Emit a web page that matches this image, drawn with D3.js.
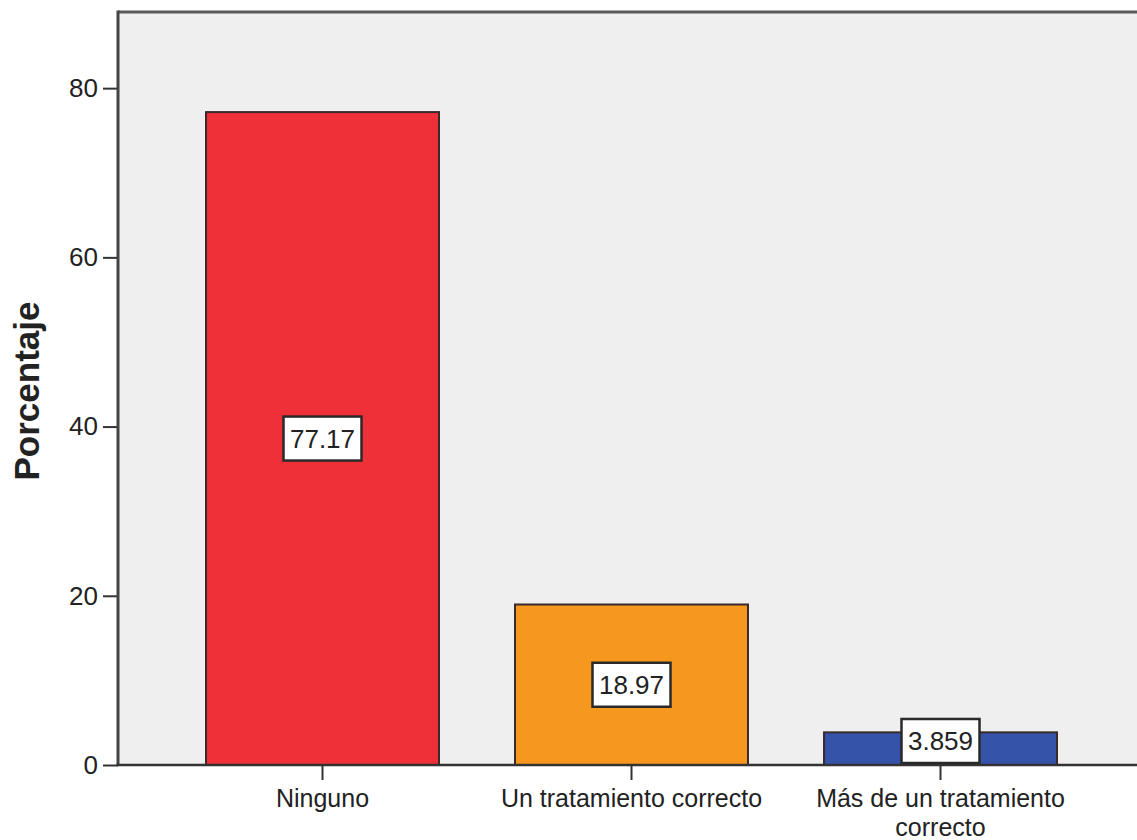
<!DOCTYPE html>
<html>
<head>
<meta charset="utf-8">
<script src="https://cdn.jsdelivr.net/npm/d3@7"></script>
<style>
  html, body { margin: 0; padding: 0; background: #ffffff; }
  svg { display: block; }
  text { font-family: "Liberation Sans", Arial, sans-serif; fill: #222; }
</style>
</head>
<body>
<svg id="chart" width="1137" height="840"></svg>
<script>
// Categories and their percentages
const categories = ["Ninguno", "Un tratamiento correcto", "Más de un tratamiento correcto"];
const categoryLines = [["Ninguno"], ["Un tratamiento correcto"], ["Más de un tratamiento", "correcto"]];
const percentages = [77.17, 18.97, 3.859];
const valueLabels = ["77.17", "18.97", "3.859"];
const barColors = ["#ef3038", "#f7981e", "#3553a8"];
const yTicks = [0, 20, 40, 60, 80];
const yMax = 89;
const yTitle = "Porcentaje";

const svg = d3.select("#chart");

// Plot frame
const plot = { left: 118, top: 12, right: 1150, bottom: 765 };

const x = d3.scaleBand()
  .domain(categories)
  .range([168, 1095])
  .paddingInner(0.246)
  .paddingOuter(0.123);

const y = d3.scaleLinear()
  .domain([0, yMax])
  .range([plot.bottom, plot.top]);

// Background
svg.append("rect")
  .attr("x", plot.left)
  .attr("y", plot.top)
  .attr("width", plot.right - plot.left)
  .attr("height", plot.bottom - plot.top)
  .attr("fill", "#efefef");

// Top border
svg.append("line")
  .attr("x1", plot.left).attr("x2", plot.right)
  .attr("y1", plot.top).attr("y2", plot.top)
  .attr("stroke", "#5a5a5a").attr("stroke-width", 3);

// Bars
svg.append("g")
  .selectAll("rect")
  .data(categories)
  .join("rect")
  .attr("x", d => x(d))
  .attr("y", (d, i) => y(percentages[i]))
  .attr("width", x.bandwidth())
  .attr("height", (d, i) => y(0) - y(percentages[i]))
  .attr("fill", (d, i) => barColors[i])
  .attr("stroke", "#3a2a2a")
  .attr("stroke-width", 2);

// Y axis
const yAxis = d3.axisLeft(y)
  .tickValues(yTicks)
  .tickSize(15)
  .tickPadding(5)
  .tickFormat(d3.format("d"));

const gy = svg.append("g")
  .attr("transform", `translate(${plot.left},0)`)
  .call(yAxis);
gy.select(".domain").remove();
gy.selectAll(".tick line").attr("stroke", "#333").attr("stroke-width", 2);
gy.selectAll(".tick text")
  .style("font-size", "26px")
  .attr("fill", "#2a2a2a");

svg.append("line")
  .attr("x1", plot.left).attr("x2", plot.left)
  .attr("y1", plot.top - 1.5).attr("y2", plot.bottom)
  .attr("stroke", "#444").attr("stroke-width", 3);

// X axis
const xAxis = d3.axisBottom(x).tickSize(15).tickFormat("");
const gx = svg.append("g")
  .attr("transform", `translate(0,${plot.bottom})`)
  .call(xAxis);
gx.select(".domain").remove();
gx.selectAll(".tick line").attr("stroke", "#333").attr("stroke-width", 2);

svg.append("line")
  .attr("x1", plot.left - 1.5).attr("x2", plot.right)
  .attr("y1", plot.bottom).attr("y2", plot.bottom)
  .attr("stroke", "#333").attr("stroke-width", 2.5);

// Category labels (wrapped)
const catLabels = svg.append("g")
  .selectAll("text")
  .data(categories)
  .join("text")
  .attr("text-anchor", "middle")
  .attr("x", d => x(d) + x.bandwidth() / 2)
  .attr("y", 807)
  .style("font-size", "25px")
  .attr("fill", "#2a2a2a");
catLabels.each(function(d, i) {
  const t = d3.select(this);
  categoryLines[i].forEach((line, j) => {
    t.append("tspan")
      .attr("x", x(d) + x.bandwidth() / 2)
      .attr("dy", j === 0 ? 0 : 29)
      .text(line);
  });
});

// Value label boxes, centered on each bar but kept above the axis
const boxW = 78, boxH = 44;
const labels = svg.append("g")
  .selectAll("g")
  .data(categories)
  .join("g")
  .attr("transform", (d, i) => {
    const cx = x(d) + x.bandwidth() / 2;
    let cy = y(percentages[i] / 2);
    cy = Math.min(cy, y(0) - boxH / 2 - 2);
    return `translate(${cx},${cy})`;
  });
labels.append("rect")
  .attr("x", -boxW / 2).attr("y", -boxH / 2)
  .attr("width", boxW).attr("height", boxH)
  .attr("fill", "#ffffff")
  .attr("stroke", "#2a2a2a")
  .attr("stroke-width", 2.5);
labels.append("text")
  .attr("text-anchor", "middle")
  .attr("dy", "0.36em")
  .style("font-size", "26px")
  .attr("fill", "#2a2a2a")
  .text((d, i) => valueLabels[i]);

// Y axis title
svg.append("text")
  .attr("transform", "translate(39,391) rotate(-90)")
  .attr("text-anchor", "middle")
  .style("font-size", "35px")
  .style("font-weight", "bold")
  .attr("fill", "#1a1a1a")
  .text(yTitle);
</script>
</body>
</html>
